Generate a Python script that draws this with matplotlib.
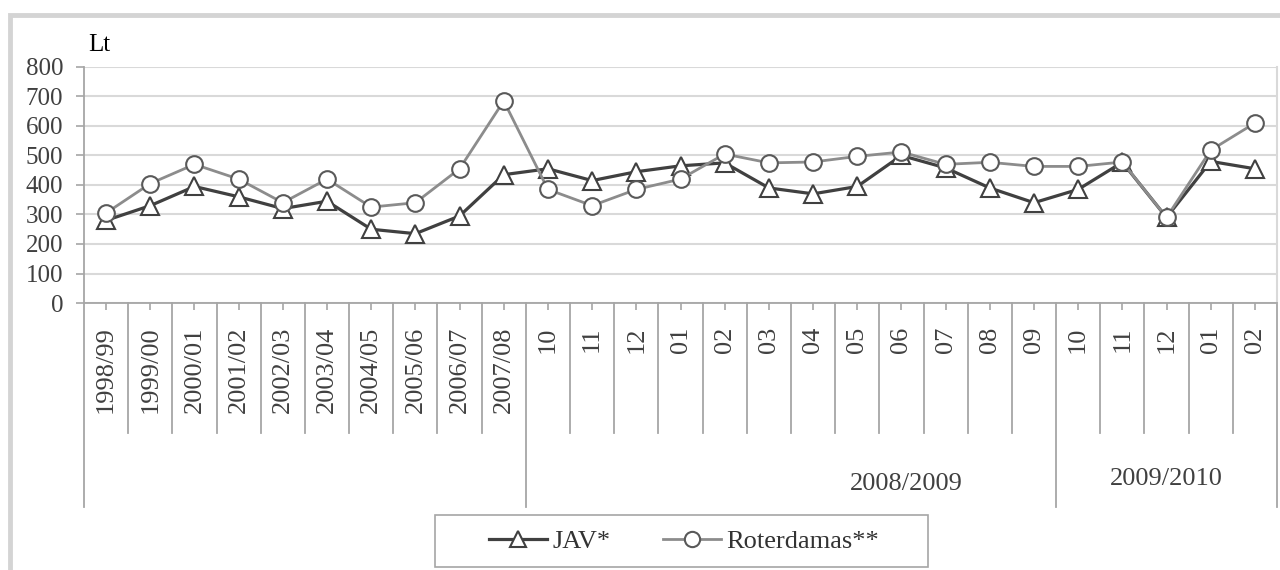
import matplotlib.pyplot as plt
from matplotlib.patches import Rectangle
from matplotlib.lines import Line2D
import numpy as np

plt.rcParams['font.family'] = ['Liberation Serif', 'DejaVu Serif']

periods = ['1998/99', '1999/00', '2000/01', '2001/02', '2002/03', '2003/04',
           '2004/05', '2005/06', '2006/07', '2007/08',
           '10', '11', '12', '01', '02', '03', '04', '05', '06', '07', '08', '09',
           '10', '11', '12', '01', '02']
groups = ['2008/2009', '2009/2010']
jav = [280, 330, 395, 360, 320, 345, 250, 235, 295, 435,
       455, 415, 445, 465, 475, 390, 370, 395, 500, 458, 390, 340,
       385, 477, 290, 480, 455]
roterdamas = [305, 405, 470, 420, 340, 420, 325, 340, 455, 685,
              385, 330, 385, 420, 505, 475, 478, 497, 512, 470, 477, 463,
              463, 478, 290, 518, 610]

W, H = 1280, 570
fig = plt.figure(figsize=(12.8, 5.7), dpi=100)

# outer frame (only top and left edges are visible)
fig.add_artist(Rectangle((10 / W, -0.2), 1.5, 1.2 - 15 / H, transform=fig.transFigure,
                         fill=False, edgecolor='#d4d4d4', lw=3.5, clip_on=False))

ax = fig.add_axes([84 / W, 1 - 303 / H, (1277 - 84) / W, 236 / H])
x = np.arange(len(periods))

ax.plot(x, jav, color='#404040', lw=2.3, marker='^', ms=13, mfc='white',
        mec='#404040', mew=1.5, zorder=3)
ax.plot(x, roterdamas, color='#8c8c8c', lw=2.0, marker='o', ms=12, mfc='white',
        mec='#595959', mew=1.5, zorder=4)

ax.set_xlim(-0.5, len(periods) - 0.5)
ax.set_ylim(0, 800)
ax.set_yticks(range(0, 801, 100))
ax.grid(axis='y', color='#d9d9d9', lw=1.5)
ax.set_axisbelow(True)

ax.spines['top'].set_visible(False)
ax.spines['right'].set_color('#d9d9d9')
ax.spines['right'].set_linewidth(1.5)
ax.spines['left'].set_color('#a6a6a6')
ax.spines['bottom'].set_color('#a6a6a6')
ax.spines['left'].set_linewidth(1.3)
ax.spines['bottom'].set_linewidth(1.3)

ax.tick_params(axis='y', length=6, width=1.2, color='#a6a6a6', pad=9,
               labelsize=18, labelcolor='#404040')
ax.set_xticks(x)
ax.set_xticklabels(periods, rotation=90, fontsize=19, color='#404040')
ax.tick_params(axis='x', length=5, width=1.2, color='#a6a6a6', pad=12)

# category separators below the axis
trans = ax.get_xaxis_transform()
long_b = [-0.5, 9.5, 21.5, len(periods) - 0.5]
for b in np.arange(-0.5, len(periods), 1.0):
    depth = -0.864 if b in long_b else -0.551
    ax.plot([b, b], [0, depth], transform=trans, color='#a6a6a6', lw=1.3,
            clip_on=False)

ax.text(18.1, -0.767, groups[0], transform=trans, ha='center', va='center',
        fontsize=19, color='#404040')
ax.text(24.0, -0.746, groups[1], transform=trans, ha='center', va='center',
        fontsize=19, color='#404040')

fig.text(88 / W, 1 - 51 / H, 'Lt', fontsize=18, color='black', va='baseline')

# legend
fig.add_artist(Rectangle((435 / W, 1 - 567 / H), (928 - 435) / W, 52 / H,
                         transform=fig.transFigure, fill=False,
                         edgecolor='#a6a6a6', lw=1.2))
handles = [
    Line2D([], [], color='#404040', lw=2.3, marker='^', ms=11, mfc='white',
           mec='#404040', mew=1.5),
    Line2D([], [], color='#8c8c8c', lw=2.0, marker='o', ms=11, mfc='white',
           mec='#595959', mew=1.5),
]
fig.legend(handles, ['JAV*', 'Roterdamas**'], loc='center',
           bbox_to_anchor=(684 / W, 1 - 541 / H), ncol=2, frameon=False,
           fontsize=19, handlelength=2.2, handletextpad=0.2,
           columnspacing=2.0, labelcolor='#333333')

fig.savefig('out.png', dpi=100)
